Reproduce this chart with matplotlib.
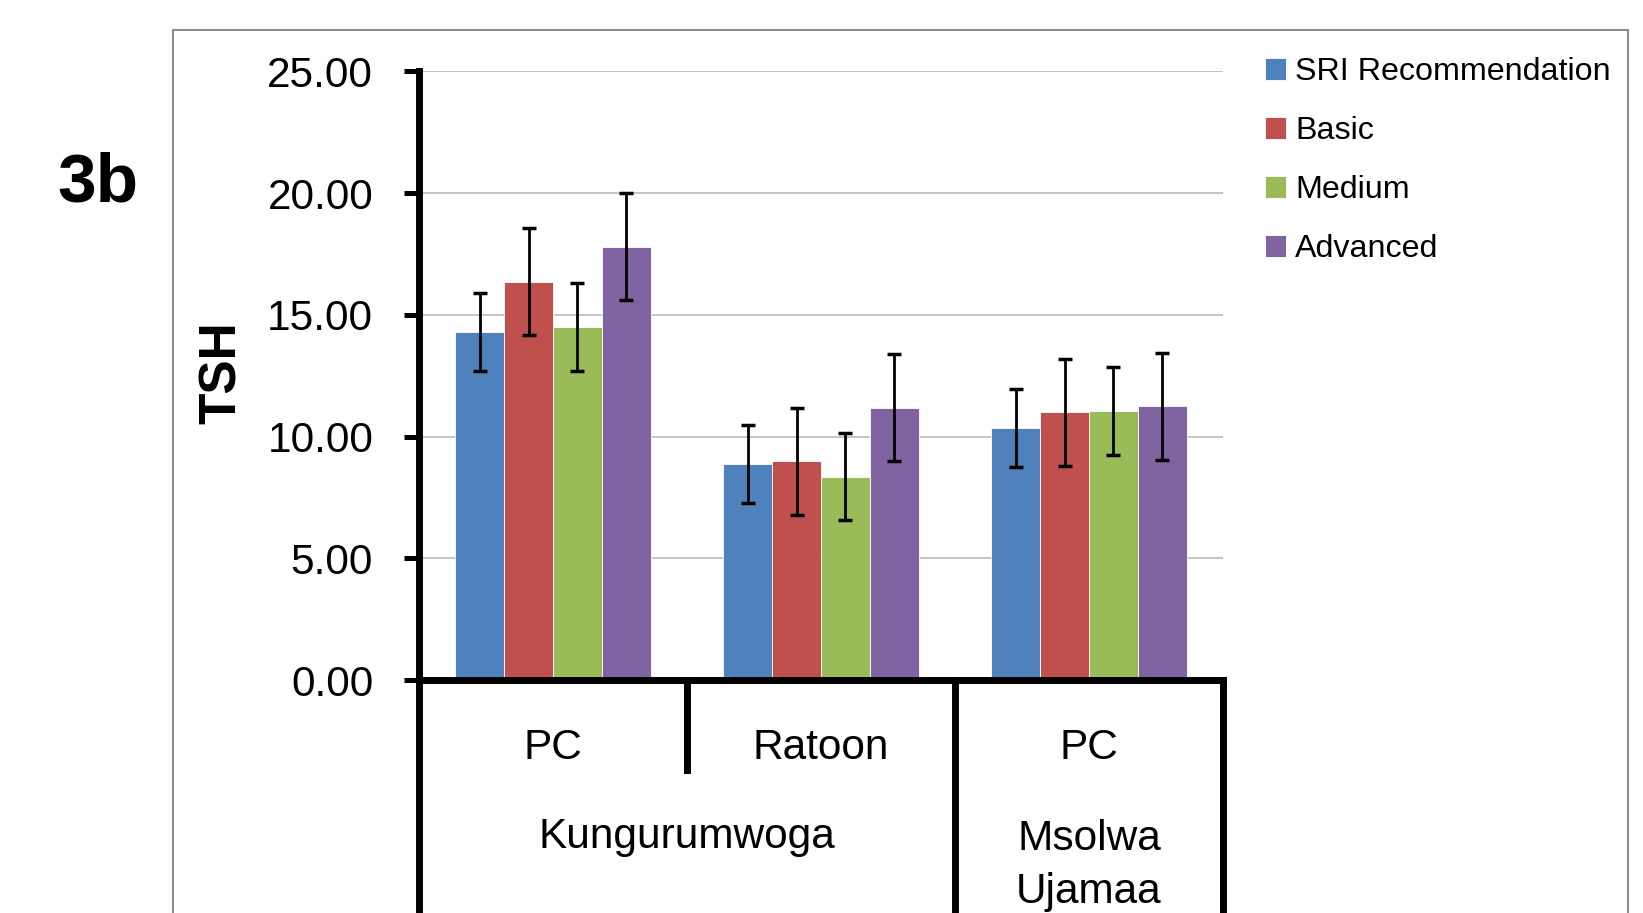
import numpy as np
import matplotlib
matplotlib.use('Agg')
import matplotlib.pyplot as plt
from matplotlib.patches import Rectangle

plt.rcParams['font.family'] = ['Liberation Sans', 'DejaVu Sans']

# data
series = ['SRI Recommendation', 'Basic', 'Medium', 'Advanced']
colors = ['#4F81BD', '#C0504D', '#9BBB59', '#8064A2']
sub_labels = ['PC', 'Ratoon', 'PC']
site_labels = ['Kungurumwoga', 'Msolwa\nUjamaa']
site_centres = [0.5, 2.0]
site_baselines = [-0.276, -0.367]
sri = [14.30, 8.88, 10.35]
basic = [16.36, 8.98, 10.99]
medium = [14.50, 8.36, 11.05]
advanced = [17.80, 11.19, 11.24]
err_sri = [1.6, 1.6, 1.6]
err_basic = [2.2, 2.2, 2.2]
err_medium = [1.8, 1.8, 1.8]
err_advanced = [2.2, 2.2, 2.2]
yticks = [0, 5, 10, 15, 20, 25]

values = [sri, basic, medium, advanced]
errors = [err_sri, err_basic, err_medium, err_advanced]

fig = plt.figure(figsize=(16.43, 9.13), dpi=100)
ax = fig.add_axes([0.2550, 0.2552, 0.4894, 0.6665])

x = np.arange(len(sub_labels))
w = 0.182
for i in range(len(series)):
    ax.bar(x + (i - 1.5) * w, values[i], w, color=colors[i], edgecolor='white',
           linewidth=0.6, label=series[i], zorder=2)
    ax.errorbar(x + (i - 1.5) * w, values[i], yerr=errors[i], fmt='none',
                ecolor='black', elinewidth=2, capsize=5, capthick=2.5, zorder=3)

ax.set_xlim(-0.5, 2.5)
ax.set_ylim(0, 25)
ax.set_yticks(yticks)
ax.set_yticklabels(['%.2f' % t for t in yticks], fontsize=30.5)
ax.set_xticks([])
ax.yaxis.grid(True, color='#BFBFBF', linewidth=1.3)
ax.set_axisbelow(True)
ax.tick_params(axis='y', direction='out', length=11, width=3.6, pad=22)
for s in ['top', 'right']:
    ax.spines[s].set_visible(False)
for s in ['left', 'bottom']:
    ax.spines[s].set_linewidth(5)
    ax.spines[s].set_capstyle('projecting')

# multi-level category axis below the plot
trans = ax.get_xaxis_transform()
for xb in [-0.5, 1.5, 2.5]:
    ax.plot([xb, xb], [0, -0.40], color='black', lw=5, transform=trans, clip_on=False)
ax.plot([0.5, 0.5], [0, -0.148], color='black', lw=5, transform=trans, clip_on=False)
for xi, lab in zip(x, sub_labels):
    ax.text(xi, -0.129, lab, transform=trans, ha='center', va='baseline', fontsize=30.5)
for xc, yb, lab in zip(site_centres, site_baselines, site_labels):
    ax.text(xc, yb, lab, transform=trans, ha='center', va='baseline',
            fontsize=30.5, linespacing=1.42)

fig.text(222 / 1643, 1 - 373 / 913, 'TSH', fontsize=37, fontweight='bold',
         rotation=90, ha='center', va='center')

fig.text(57 / 1643, 1 - 202 / 913, '3b', fontsize=50, fontweight='bold', ha='left', va='baseline')

fig.patches.append(Rectangle((173 / 1643, -0.05), (1628 - 173) / 1643, 0.05 + 1 - 30 / 913,
                             transform=fig.transFigure, fill=False, edgecolor='#8C8C8C', lw=1.5))

ax.legend(loc='upper left', bbox_to_anchor=(1265 / 1643, 1 - 57 / 913), bbox_transform=fig.transFigure,
          frameon=False, fontsize=23.2, handlelength=0.66, handleheight=0.66, handletextpad=0.28,
          labelspacing=0.9, borderpad=0, borderaxespad=0)

fig.savefig('out.png', dpi=100)
